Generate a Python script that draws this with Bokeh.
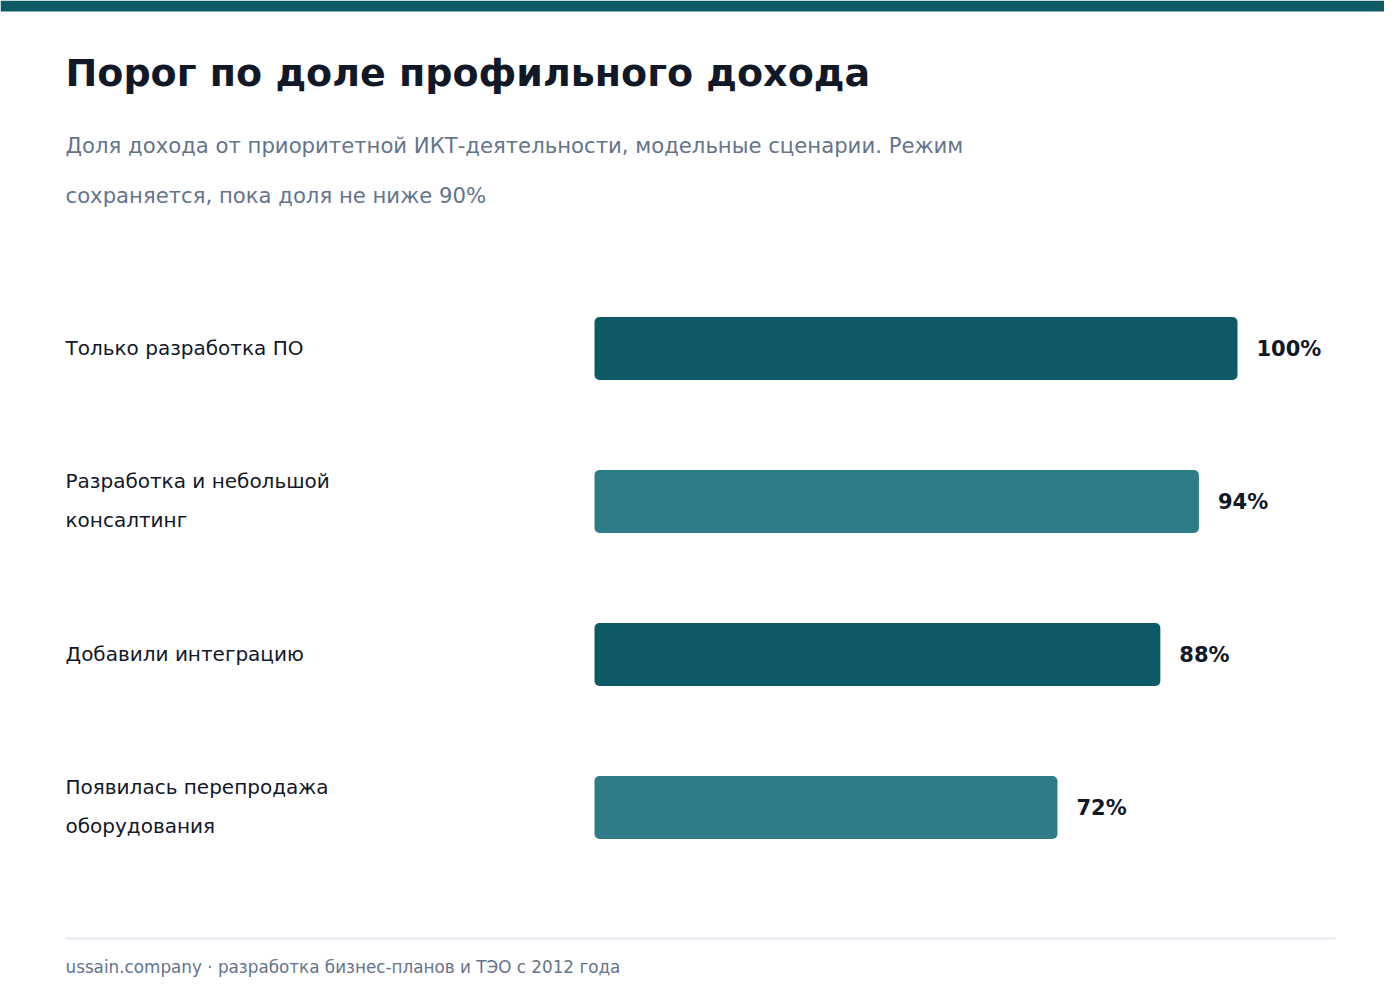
from bokeh.plotting import figure
from bokeh.models import Range1d, Label, BoxAnnotation, ColumnDataSource
from bokeh.core.properties import value
from bokeh.embed import file_html
from bokeh.resources import INLINE

# data
categories = [
    "Только разработка ПО",
    "Разработка и небольшой\nконсалтинг",
    "Добавили интеграцию",
    "Появилась перепродажа\nоборудования",
]
shares = [100, 94, 88, 72]
bar_colors = ["#0d5a66", "#2f7c89", "#0d5a66", "#2f7c89"]
value_labels = [f"{v}%" for v in shares]

title = "Порог по доле профильного дохода"
subtitle_lines = [
    "Доля дохода от приоритетной ИКТ-деятельности, модельные сценарии. Режим",
    "сохраняется, пока доля не ниже 90%",
]
footer = "ussain.company · разработка бизнес-планов и ТЭО с 2012 года"

# layout (pixels inside the figure, measured from the top-left)
W, H = 1384, 984
bar_left_px = 594
px_per_pct = 6.43
row0_px = 348
row_step_px = 153
bar_h_px = 63
label_left_px = 65

FONT = "DejaVu Sans"

p = figure(width=W, height=H, output_backend="svg", toolbar_location=None,
           x_axis_location=None, y_axis_location=None, min_border=0,
           tools="")
p.x_range = Range1d(-bar_left_px / px_per_pct, (W - bar_left_px) / px_per_pct)
p.y_range = Range1d((H - row0_px) / row_step_px, -row0_px / row_step_px)
p.grid.visible = False
p.outline_line_color = None
p.background_fill_color = "white"
p.border_fill_color = "white"

ys = list(range(len(categories)))
src = ColumnDataSource(dict(y=ys, right=shares, color=bar_colors,
                            cat=categories, val=value_labels,
                            lx=[(label_left_px - bar_left_px) / px_per_pct] * len(ys)))

p.hbar(y="y", left=0, right="right", height=bar_h_px / row_step_px,
       fill_color="color", line_color=None, border_radius=5, source=src)

p.text(x="right", y="y", text="val", x_offset=19, source=src,
       text_font=value(FONT), text_font_style="bold", text_font_size="21px",
       text_color="#111827", text_baseline="middle", text_align="left")

p.text(x="lx", y="y", text="cat", y_offset=-1, source=src,
       text_font=value(FONT), text_font_size="20px", text_line_height=1.64,
       text_color="#111827", text_baseline="middle", text_align="left")

# top band
p.add_layout(BoxAnnotation(left=0, right=W, top=H, bottom=H - 11,
                           left_units="screen", right_units="screen",
                           top_units="screen", bottom_units="screen",
                           fill_color="#0d5a66", fill_alpha=1, line_color=None))

# title & subtitle
p.add_layout(Label(x=label_left_px, y=H - 72, x_units="screen", y_units="screen",
                   text=title, text_font=FONT, text_font_style="bold",
                   text_font_size="38px", text_color="#111827",
                   text_baseline="middle"))
for i, line in enumerate(subtitle_lines):
    p.add_layout(Label(x=label_left_px, y=H - 145 - 50 * i, x_units="screen", y_units="screen",
                       text=line, text_font=FONT, text_font_size="21.2px",
                       text_color="#64748b", text_baseline="middle"))

# footer rule and text
p.add_layout(BoxAnnotation(left=label_left_px, right=1335, top=H - 937, bottom=H - 939,
                           left_units="screen", right_units="screen",
                           top_units="screen", bottom_units="screen",
                           fill_color="#e2e8f0", fill_alpha=1, line_color=None))
p.add_layout(Label(x=label_left_px, y=H - 966, x_units="screen", y_units="screen",
                   text=footer, text_font=FONT, text_font_size="16.8px",
                   text_color="#64748b", text_baseline="middle"))

open("out.html", "w").write(file_html(p, INLINE))
